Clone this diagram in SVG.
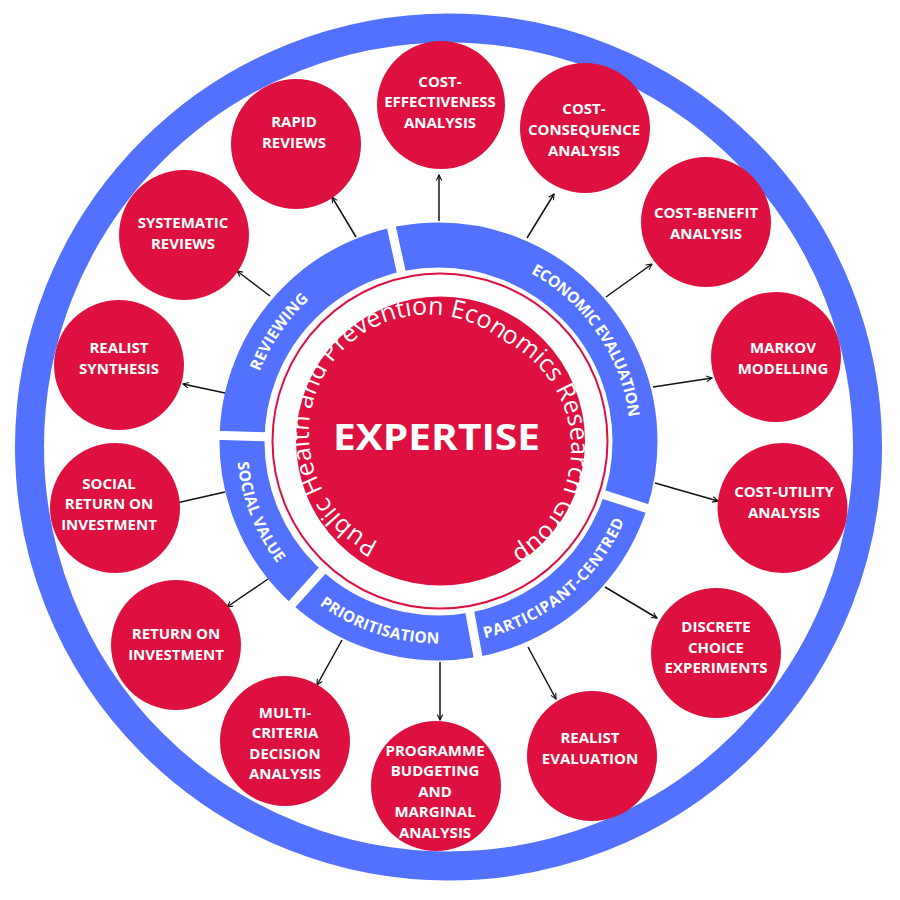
<svg xmlns="http://www.w3.org/2000/svg" width="900" height="900" viewBox="0 0 900 900">
<style>
.node{fill:#DD1040}
.lbl{font-family:"Open Sans","Liberation Sans",sans-serif;font-weight:700;font-size:15px;fill:#fff;text-anchor:middle}
.band{font-family:"Open Sans","Liberation Sans",sans-serif;font-weight:700;font-size:15.5px;fill:#fff;text-anchor:middle}
.con{stroke:#111;stroke-width:1.5;fill:none;marker-end:url(#ah)}
.gap{stroke:#fff;stroke-width:9}
</style>
<defs>
<marker id="ah" viewBox="0 0 10 10" refX="9" refY="5" markerWidth="7" markerHeight="7" orient="auto" markerUnits="userSpaceOnUse"><path d="M1,1 L9,5 L1,9" fill="none" stroke="#111" stroke-width="1.6"/></marker>
<path id="cw" d="M246.5,441.5 A192,192 0 1,1 630.5,441.5 A192,192 0 1,1 246.5,441.5"/>
<path id="ccw" d="M236.5,441.5 A202,202 0 1,0 640.5,441.5 A202,202 0 1,0 236.5,441.5"/>
<path id="inner" d="M378.7,542.0 A119,119 0 1,1 501.3,340.0 A119,119 0 1,1 378.7,542.0"/>
</defs>
<rect width="900" height="900" fill="#fff"/>
<circle cx="448.5" cy="447" r="419" fill="none" stroke="#5271FF" stroke-width="29"/>

<g id="bands">
<circle cx="438.5" cy="441.5" r="196.5" fill="none" stroke="#5271FF" stroke-width="45"/>
<line class="gap" x1="402.0" y1="275.5" x2="390.4" y2="222.7"/>
<line class="gap" x1="600.4" y1="493.5" x2="651.8" y2="510.0"/>
<line class="gap" x1="469.2" y1="608.7" x2="478.9" y2="661.8"/>
<line class="gap" x1="324.8" y1="567.8" x2="288.6" y2="608.0"/>
<line class="gap" x1="268.6" y1="436.8" x2="214.6" y2="435.3"/>
<text class="band"><textPath href="#cw" startOffset="115.6" textLength="88" lengthAdjust="spacing">REVIEWING</textPath></text>
<text class="band"><textPath href="#cw" startOffset="488.2" textLength="181" lengthAdjust="spacing">ECONOMIC EVALUATION</textPath></text>
<text class="band"><textPath href="#ccw" startOffset="75.8" textLength="110" lengthAdjust="spacing">SOCIAL VALUE</textPath></text>
<text class="band"><textPath href="#ccw" startOffset="253.8" textLength="128" lengthAdjust="spacing">PRIORITISATION</textPath></text>
<text class="band"><textPath href="#ccw" startOffset="458.3" textLength="189" lengthAdjust="spacing">PARTICIPANT-CENTRED</textPath></text>
</g>

<g id="center">
<circle cx="440" cy="441" r="167.5" fill="none" stroke="#DD1040" stroke-width="2"/>
<circle cx="440.5" cy="441" r="144.5" fill="#DD1040"/>
<text font-family="'Open Sans','Liberation Sans',sans-serif" font-size="25" fill="#fff"><textPath href="#inner">Public Health and Prevention Economics Research Group</textPath></text>
<text x="436.5" y="450" font-family="'Open Sans','Liberation Sans',sans-serif" font-weight="700" font-size="36" fill="#fff" text-anchor="middle" textLength="207" lengthAdjust="spacingAndGlyphs">EXPERTISE</text>
</g>

<g id="connectors">
<line class="con" x1="356" y1="237" x2="332" y2="197"/>
<line class="con" x1="439" y1="221" x2="439" y2="175"/>
<line class="con" x1="527" y1="238" x2="554" y2="194"/>
<line class="con" x1="606" y1="297" x2="652" y2="264"/>
<line class="con" x1="653" y1="387" x2="712" y2="378"/>
<line class="con" x1="655" y1="483" x2="718" y2="501"/>
<line class="con" x1="605" y1="587" x2="657" y2="618"/>
<line class="con" x1="528" y1="647" x2="556" y2="699"/>
<line class="con" x1="440" y1="662" x2="440" y2="720"/>
<line class="con" x1="342" y1="640" x2="317" y2="685"/>
<line class="con" x1="268" y1="579" x2="227" y2="607"/>
<line class="con" x1="225" y1="492" x2="172" y2="504"/>
<line class="con" x1="225" y1="393" x2="183" y2="384"/>
<line class="con" x1="270" y1="296" x2="237" y2="271"/>
</g>

<g id="rapid-reviews"><circle class="node" cx="296" cy="144" r="65"/><text class="lbl"><tspan x="294" y="127">RAPID</tspan><tspan x="294" y="148">REVIEWS</tspan></text></g>
<g id="cost-effectiveness"><circle class="node" cx="441" cy="105" r="64"/><text class="lbl"><tspan x="440" y="86.5">COST-</tspan><tspan x="440" y="107">EFFECTIVENESS</tspan><tspan x="440" y="127.5">ANALYSIS</tspan></text></g>
<g id="cost-consequence"><circle class="node" cx="585" cy="128" r="65"/><text class="lbl"><tspan x="584" y="113.5">COST-</tspan><tspan x="584" y="134.5">CONSEQUENCE</tspan><tspan x="584" y="155.5">ANALYSIS</tspan></text></g>
<g id="cost-benefit"><circle class="node" cx="706" cy="222" r="65"/><text class="lbl"><tspan x="706" y="217.5">COST-BENEFIT</tspan><tspan x="706" y="238.5">ANALYSIS</tspan></text></g>
<g id="markov"><circle class="node" cx="776" cy="357" r="65"/><text class="lbl"><tspan x="783" y="352.5">MARKOV</tspan><tspan x="783" y="373.5">MODELLING</tspan></text></g>
<g id="cost-utility"><circle class="node" cx="782.5" cy="508" r="65"/><text class="lbl"><tspan x="784" y="497">COST-UTILITY</tspan><tspan x="784" y="517.5">ANALYSIS</tspan></text></g>
<g id="discrete-choice"><circle class="node" cx="716" cy="653" r="65"/><text class="lbl"><tspan x="716" y="632">DISCRETE</tspan><tspan x="716" y="652.5">CHOICE</tspan><tspan x="716" y="673">EXPERIMENTS</tspan></text></g>
<g id="realist-evaluation"><circle class="node" cx="592" cy="756" r="65"/><text class="lbl"><tspan x="590" y="742.5">REALIST</tspan><tspan x="590" y="763.5">EVALUATION</tspan></text></g>
<g id="pbma"><circle class="node" cx="436" cy="786" r="65"/><text class="lbl"><tspan x="435" y="755.5">PROGRAMME</tspan><tspan x="435" y="776">BUDGETING</tspan><tspan x="435" y="796.5">AND</tspan><tspan x="435" y="817">MARGINAL</tspan><tspan x="435" y="837.5">ANALYSIS</tspan></text></g>
<g id="mcda"><circle class="node" cx="285" cy="741" r="65"/><text class="lbl"><tspan x="285" y="717.5">MULTI-</tspan><tspan x="285" y="738">CRITERIA</tspan><tspan x="285" y="758.5">DECISION</tspan><tspan x="285" y="779">ANALYSIS</tspan></text></g>
<g id="roi"><circle class="node" cx="176" cy="645" r="65"/><text class="lbl"><tspan x="176" y="638.5">RETURN ON</tspan><tspan x="176" y="659.5">INVESTMENT</tspan></text></g>
<g id="sroi"><circle class="node" cx="115" cy="508" r="65"/><text class="lbl"><tspan x="109" y="488.5">SOCIAL</tspan><tspan x="109" y="509">RETURN ON</tspan><tspan x="109" y="529.5">INVESTMENT</tspan></text></g>
<g id="realist-synthesis"><circle class="node" cx="119" cy="365" r="65"/><text class="lbl"><tspan x="119" y="352.5">REALIST</tspan><tspan x="119" y="373.5">SYNTHESIS</tspan></text></g>
<g id="systematic-reviews"><circle class="node" cx="184" cy="235" r="65"/><text class="lbl"><tspan x="183" y="228">SYSTEMATIC</tspan><tspan x="183" y="249">REVIEWS</tspan></text></g>
</svg>
